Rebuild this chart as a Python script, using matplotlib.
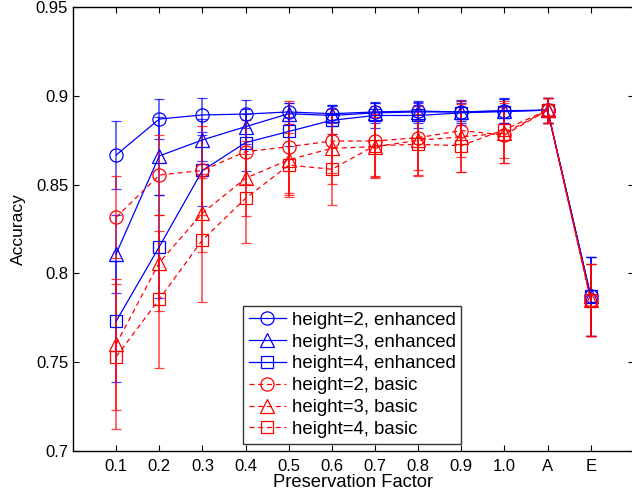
import matplotlib
matplotlib.use('Agg')
import matplotlib.pyplot as plt
import numpy as np

plt.rcParams['font.family'] = ['Liberation Sans', 'DejaVu Sans']

tick_labels = ['0.1', '0.2', '0.3', '0.4', '0.5', '0.6', '0.7', '0.8', '0.9',
               '1.0', 'A', 'E']

# accuracy means per preservation factor (plus A and E)
enh_h2 = [0.8667, 0.887, 0.8893, 0.8898, 0.891, 0.890, 0.891, 0.8915, 0.891,
          0.8917, 0.892, 0.787]
enh_h3 = [0.811, 0.8662, 0.8752, 0.8827, 0.890, 0.889, 0.8905, 0.891, 0.891,
          0.8915, 0.892, 0.787]
enh_h4 = [0.773, 0.815, 0.858, 0.8737, 0.880, 0.8863, 0.889, 0.889, 0.8905,
          0.8912, 0.892, 0.787]
bas_h2 = [0.8316, 0.8554, 0.858, 0.8686, 0.8714, 0.8746, 0.8746, 0.8765,
          0.8805, 0.878, 0.892, 0.785]
bas_h3 = [0.760, 0.806, 0.834, 0.8536, 0.864, 0.8705, 0.8714, 0.875, 0.877,
          0.879, 0.892, 0.785]
bas_h4 = [0.753, 0.7854, 0.8188, 0.8423, 0.861, 0.8587, 0.872, 0.8727, 0.872,
          0.881, 0.892, 0.785]

# half-width of the error bars
enh_h2_err = [0.019, 0.0113, 0.0094, 0.008, 0.005, 0.005, 0.005, 0.005,
              0.005, 0.007, 0.007, 0.0224]
enh_h3_err = [0.022, 0.022, 0.012, 0.01, 0.006, 0.006, 0.006, 0.006, 0.006,
              0.007, 0.007, 0.0224]
enh_h4_err = [0.034, 0.029, 0.02, 0.016, 0.008, 0.008, 0.007, 0.007, 0.007,
              0.007, 0.007, 0.0224]
bas_h2_err = [0.023, 0.0226, 0.025, 0.018, 0.026, 0.018, 0.02, 0.018, 0.015,
              0.016, 0.007, 0.0203]
bas_h3_err = [0.037, 0.027, 0.022, 0.021, 0.02, 0.02, 0.017, 0.02, 0.02,
              0.017, 0.007, 0.0203]
bas_h4_err = [0.041, 0.0386, 0.035, 0.025, 0.018, 0.02, 0.018, 0.017, 0.015,
              0.016, 0.007, 0.0203]

series = [
    ("height=2, enhanced", enh_h2, enh_h2_err, 'b', 'o', '-'),
    ("height=3, enhanced", enh_h3, enh_h3_err, 'b', '^', '-'),
    ("height=4, enhanced", enh_h4, enh_h4_err, 'b', 's', '-'),
    ("height=2, basic", bas_h2, bas_h2_err, 'r', 'o', '--'),
    ("height=3, basic", bas_h3, bas_h3_err, 'r', '^', '--'),
    ("height=4, basic", bas_h4, bas_h4_err, 'r', 's', '--'),
]

fig = plt.figure(figsize=(6.32, 4.97), dpi=100)
ax = fig.add_axes([0.1155, 0.0932, 0.8875, 0.8921])

x = np.arange(1, len(tick_labels) + 1)
sizes = {'o': 9.5, '^': 10.5, 's': 8.5}
handles = []
for label, vals, err, color, marker, ls in series:
    line, caps, bars = ax.errorbar(x, vals, yerr=err, color=color,
                                   marker=marker, markersize=sizes[marker],
                                   markerfacecolor='none',
                                   markeredgewidth=0.9, linestyle=ls,
                                   linewidth=0.9, elinewidth=1.1,
                                   capsize=3.6, capthick=1.1, label=label)
    if ls == '--':
        line.set_dashes((4, 3))
    for c in caps:
        c.set_alpha(0.75)
    for b in bars:
        b.set_alpha(0.75)
    handles.append(line)

ax.set_xlim(0, 13)
ax.set_ylim(0.7, 0.95)
ax.set_xticks(x)
ax.set_xticklabels(tick_labels)
ax.set_yticks([0.7, 0.75, 0.8, 0.85, 0.9, 0.95])
ax.set_yticklabels(['0.7', '0.75', '0.8', '0.85', '0.9', '0.95'])
ax.tick_params(direction='in', top=True, right=True, length=4,
               labelsize=12, width=0.8)
ax.tick_params(axis='x', pad=6)
for s in ax.spines.values():
    s.set_linewidth(1.0)

ax.set_xlabel("Preservation Factor", fontsize=13.2, labelpad=0)
ax.set_ylabel("Accuracy", fontsize=12.5, labelpad=7)

labels = [s[0] for s in series]
leg = ax.legend(handles, labels, loc='lower left',
                bbox_to_anchor=(0.3036, 0.016), fontsize=13.4,
                frameon=True, fancybox=False, edgecolor='black',
                handlelength=2.0, handletextpad=0.3, borderpad=0.3,
                labelspacing=0.26, borderaxespad=0)
leg.get_frame().set_linewidth(1.0)

fig.savefig('out.png', dpi=100)
